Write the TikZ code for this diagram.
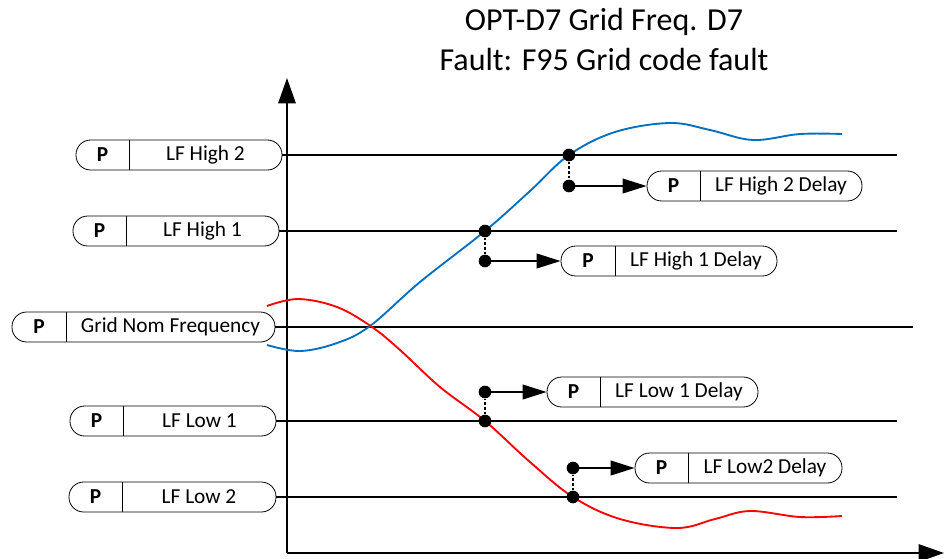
\documentclass[tikz,border=0pt]{standalone}
\usepackage{fontspec}
\setmainfont{Carlito}
\usetikzlibrary{arrows.meta,calc,fit}

\definecolor{freqblue}{RGB}{0,112,192}

\tikzset{
    pill/.style={draw, line width=0.6pt, rounded corners=11pt, inner sep=0pt},
    pillline/.style={line width=0.6pt},
    level/.style={line width=1.4pt},
    axis/.style={line width=1.5pt, -{Triangle[length=19pt, width=13pt]}},
    dot/.style={circle, fill=black, inner sep=0pt, minimum size=9.5pt},
    delay/.style={line width=1.4pt, -{Triangle[length=18pt, width=11pt]}},
    drop/.style={line width=1.4pt, dash pattern=on 2pt off 1.5pt},
    lbl/.style={font=\fontsize{16}{18}\selectfont}
}

% parameter box: name, left x, divider x, right x, y, text
\newcommand{\ppill}[6]{%
    \path (#2,#5-15) coordinate (#1-nw) (#4,#5+15) coordinate (#1-se);
    \node[pill, fit=(#1-nw)(#1-se)] (#1) {};
    \draw[pillline] (#3,#5-15) -- (#3,#5+15);
    \node[lbl, font=\fontsize{16}{18}\selectfont\bfseries] at ($(#2,#5)!0.5!(#3,#5)$) {P};
    \node[lbl] at ($(#3,#5)!0.5!(#4,#5)$) {#6};
}

\begin{document}
\begin{tikzpicture}[x=0.75pt, y=-0.75pt]
    \useasboundingbox (0,0) rectangle (944,558);

    % Title
    \node[align=center, font=\fontsize{24}{30}\selectfont] (title) at (604,40)
        {OPT-D7 Grid Freq. D7\\Fault: F95 Grid code fault};

    % Axes
    \coordinate (O) at (287,553);
    \coordinate (ytop) at (287,78);
    \coordinate (xend) at (944,553);
    \draw[axis] (O) -- (ytop);
    \draw[axis] (O) -- (xend);

    % Parameter boxes on the left
    \ppill{lfh2}{76}{129}{282}{155}{LF High 2}
    \ppill{lfh1}{73}{126}{279}{231}{LF High 1}
    \ppill{gnf}{12}{66}{275}{327}{Grid Nom Frequency}
    \ppill{lfl1}{70}{123}{276}{421}{LF Low 1}
    \ppill{lfl2}{69}{122}{276}{497}{LF Low 2}

    % Levels
    \coordinate (lfh2e) at (897,155);
    \coordinate (lfh1e) at (897,231);
    \coordinate (gnfe) at (913,327);
    \coordinate (lfl1e) at (897,421);
    \coordinate (lfl2e) at (897,497);
    \draw[level] (lfh2.east) -- (lfh2e);
    \draw[level] (lfh1.east) -- (lfh1e);
    \draw[level] (gnf.east) -- (gnfe);
    \draw[level] (lfl1.east) -- (lfl1e);
    \draw[level] (lfl2.east) -- (lfl2e);

    % Frequency curves
    \draw[freqblue, line width=1.4pt] plot[smooth, tension=0.6] coordinates {
        (267,345) (300,351) (337,343) (370,326) (420,282) (485,231)
        (530,191) (569,155) (615,132) (670,123) (710,130) (753,140)
        (800,134) (842,134)};
    \draw[red, line width=1.4pt] plot[smooth, tension=0.6] coordinates {
        (267,306) (298,299) (337,307) (372,327) (400,350) (440,387)
        (485,421) (530,462) (573,497) (620,519) (677,528) (715,519)
        (750,511) (800,517) (842,516)};

    % Delay boxes
    \ppill{h2d}{647}{700}{862}{186}{LF High 2 Delay}
    \ppill{h1d}{561}{615}{777}{261}{LF High 1 Delay}
    \ppill{l1d}{547}{600}{758}{392}{LF Low 1 Delay}
    \ppill{l2d}{635}{688}{842}{468}{LF Low2 Delay}

    % Crossing points and delays
    \node[dot] (h2a) at (569,155) {};
    \node[dot] (h2b) at (569,186) {};
    \node[dot] (h1a) at (485,231) {};
    \node[dot] (h1b) at (485,261) {};
    \node[dot] (l1a) at (485,421) {};
    \node[dot] (l1b) at (485,392) {};
    \node[dot] (l2a) at (573,497) {};
    \node[dot] (l2b) at (573,468) {};

    \draw[drop] (h2a) -- (h2b);
    \draw[drop] (h1a) -- (h1b);
    \draw[drop] (l1a) -- (l1b);
    \draw[drop] (l2a) -- (l2b);

    \draw[delay] (h2b.center) -- (h2d.west);
    \draw[delay] (h1b.center) -- (h1d.west);
    \draw[delay] (l1b.center) -- (l1d.west);
    \draw[delay] (l2b.center) -- (l2d.west);
\end{tikzpicture}
\end{document}
